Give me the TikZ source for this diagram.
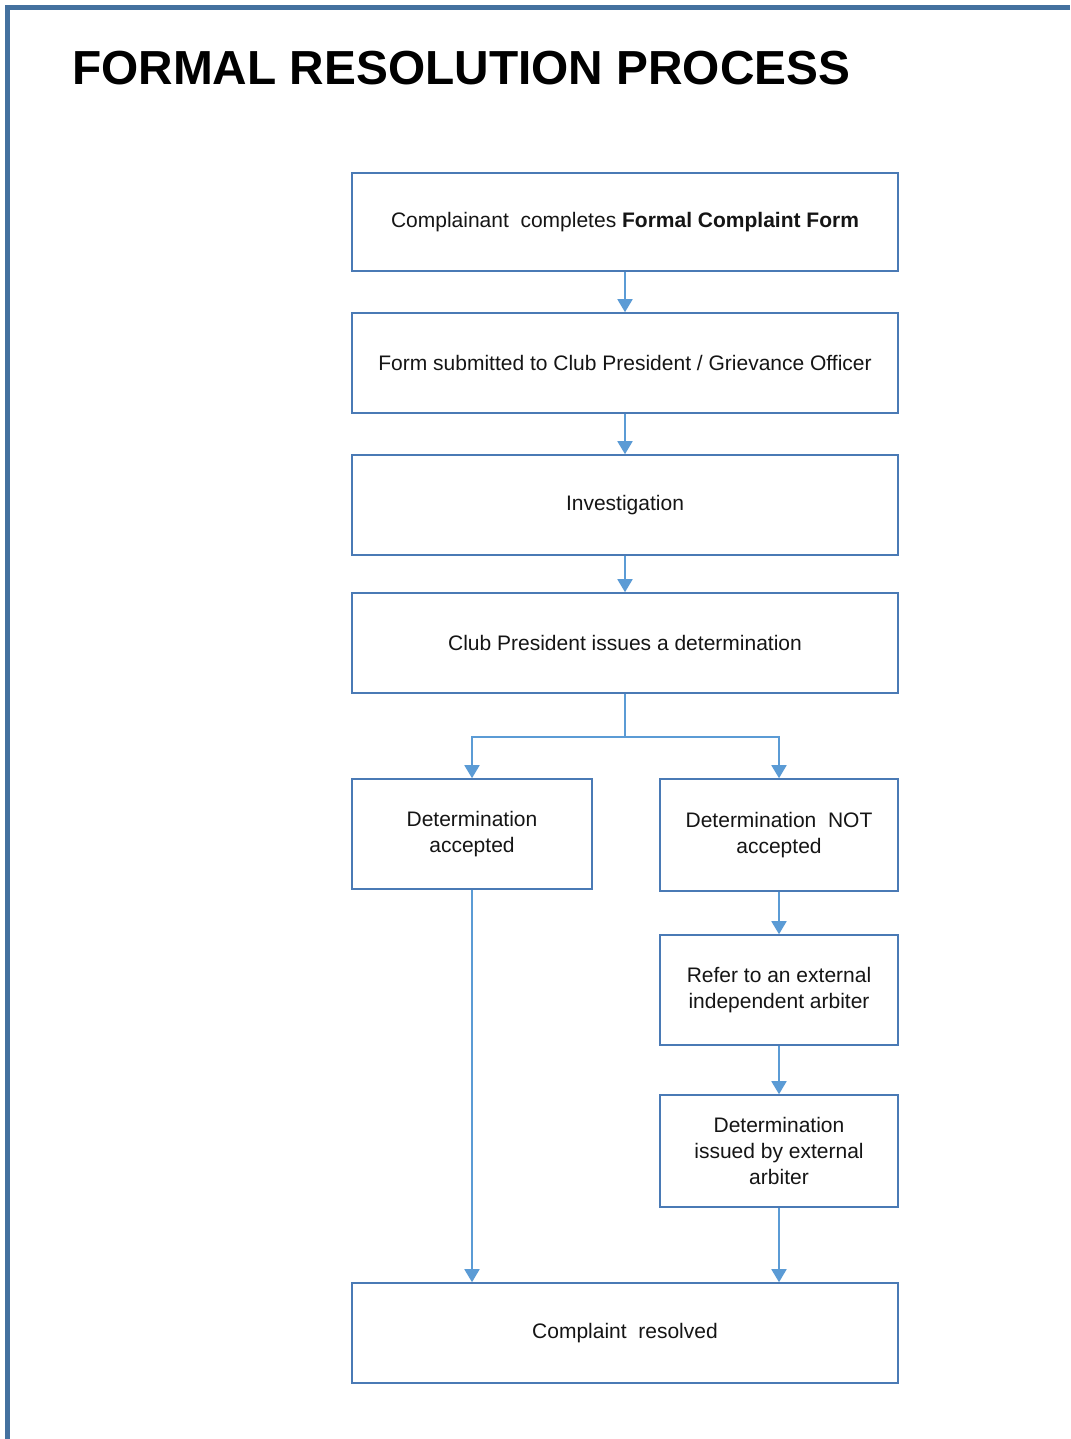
\documentclass[tikz,border=0pt]{standalone}
\usepackage{fontspec}
\setmainfont{Liberation Sans}
\usetikzlibrary{arrows.meta}
\definecolor{framec}{HTML}{44719F}
\definecolor{boxline}{HTML}{4A7AB5}
\definecolor{arrowc}{HTML}{5B9BD5}
\definecolor{txt}{HTML}{151515}
\begin{document}
\begin{tikzpicture}[x=1pt,y=-1pt,
  box/.style={draw=boxline, line width=1.6pt, fill=white, inner sep=0pt, align=center,
    font=\fontsize{21}{26}\selectfont, text=txt},
  conn/.style={draw=arrowc, line width=1.8pt, -{Triangle[width=15pt,length=13pt]}},
  link/.style={draw=arrowc, line width=1.8pt}]
\useasboundingbox (0,0) rectangle (1070,1439);
\fill[white] (0,0) rectangle (1070,1439);
\draw[framec, line width=5.5pt] (7.5,1439) -- (7.5,7.5) -- (1070,7.5);
\node[anchor=base west, font=\bfseries\fontsize{47.8}{48}\selectfont, text=black, inner sep=0pt] (title) at (72,85) {FORMAL RESOLUTION PROCESS};
\node[box, minimum width=546pt, minimum height=98pt] (b1) at (625,222) {Complainant\ \ completes \textbf{Formal Complaint Form}};
\node[box, minimum width=546pt, minimum height=100pt] (b2) at (625,363) {Form submitted to Club President / Grievance Officer};
\node[box, minimum width=546pt, minimum height=100pt] (b3) at (625,505) {Investigation};
\node[box, minimum width=546pt, minimum height=100pt] (b4) at (625,643) {Club President issues a determination};
\node[box, minimum width=240pt, minimum height=110pt] (b5l) at (472,834) {Determination\\accepted};
\node[box, minimum width=238pt, minimum height=112pt] (b5r) at (779,835) {Determination\ \ NOT\\accepted};
\node[box, minimum width=238pt, minimum height=110pt] (b6) at (779,990) {Refer to an external\\independent arbiter};
\node[box, minimum width=238pt, minimum height=112pt] (b7) at (779,1151) {Determination\\issued by external\\arbiter};
\node[box, minimum width=546pt, minimum height=100pt] (b8) at (625,1333) {Complaint\ \ resolved};
\coordinate (split) at (625,737);
\draw[conn] (b1) -- (b2);
\draw[conn] (b2) -- (b3);
\draw[conn] (b3) -- (b4);
\draw[link] (b4.south) -- (split);
\draw[conn] (split) -| (b5l.north);
\draw[conn] (split) -| (b5r.north);
\draw[conn] (b5r) -- (b6);
\draw[conn] (b6) -- (b7);
\draw[conn] (b5l.south) -- (b5l.south |- b8.north);
\draw[conn] (b7.south) -- (b7.south |- b8.north);
\end{tikzpicture}
\end{document}
